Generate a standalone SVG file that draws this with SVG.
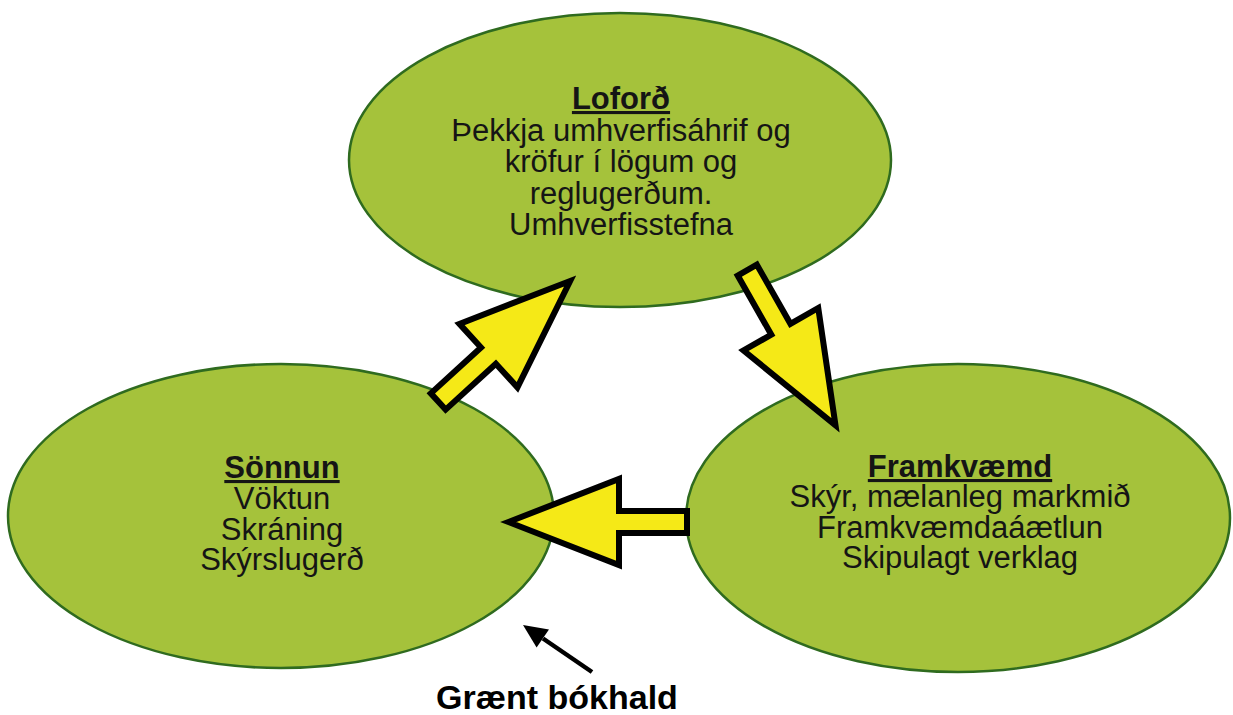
<svg xmlns="http://www.w3.org/2000/svg" width="1233" height="715" viewBox="0 0 1233 715">
  <style>
    .ell { fill: #a5c23b; stroke: #2f6b1f; stroke-width: 2.5; }
    .t { font-family: "Liberation Sans", Arial, sans-serif; font-size: 31px; fill: #151515; text-anchor: middle; }
    .h { font-weight: bold; text-decoration: underline; }
    .big { fill: #f5e917; stroke: #000; stroke-width: 6; stroke-linejoin: miter; stroke-miterlimit: 10; }
    .lbl { font-family: "Liberation Sans", Arial, sans-serif; font-size: 34px; font-weight: bold; fill: #000; text-anchor: middle; }
  </style>
  <defs>
    <path id="bigArrow" d="M3,-11 L71,-11 L71,-43 L181.6,0 L71,43 L71,11 L3,11 Z"/>
    <marker id="ptr" markerWidth="8" markerHeight="8" refX="1" refY="4" orient="auto" markerUnits="userSpaceOnUse" viewBox="0 0 8 8"/>
  </defs>
  <rect width="1233" height="715" fill="#ffffff"/>

  <g id="node-loford">
    <ellipse class="ell" cx="620" cy="160" rx="271" ry="147"/>
    <text class="t" x="621" y="109"><tspan class="h">Loforð</tspan></text>
    <text class="t" x="621" y="141">Þekkja umhverfisáhrif og</text>
    <text class="t" x="621" y="172">kröfur í lögum og</text>
    <text class="t" x="621" y="204">reglugerðum.</text>
    <text class="t" x="621" y="235">Umhverfisstefna</text>
  </g>

  <g id="node-sonnun">
    <ellipse class="ell" cx="281" cy="516" rx="273" ry="152"/>
    <text class="t" x="282" y="478"><tspan class="h">Sönnun</tspan></text>
    <text class="t" x="282" y="509">Vöktun</text>
    <text class="t" x="282" y="540">Skráning</text>
    <text class="t" x="282" y="570">Skýrslugerð</text>
  </g>

  <g id="node-framkvaemd">
    <ellipse class="ell" cx="958" cy="518" rx="272" ry="154"/>
    <text class="t" x="960" y="477"><tspan class="h">Framkvæmd</tspan></text>
    <text class="t" x="960" y="507">Skýr, mælanleg markmið</text>
    <text class="t" x="960" y="538">Framkvæmdaáætlun</text>
    <text class="t" x="960" y="568">Skipulagt verklag</text>
  </g>

  <g id="connectors">
    <use href="#bigArrow" class="big" transform="translate(436,403.5) rotate(-42.4)"/>
    <use href="#bigArrow" class="big" transform="translate(745.8,267.5) rotate(60.4)"/>
    <use href="#bigArrow" class="big" transform="translate(690,522) rotate(180)"/>
    <line x1="592" y1="672" x2="543" y2="638.5" stroke="#000" stroke-width="4.5"/>
    <polygon points="523,625 549,629.4 536.6,647.6" fill="#000"/>
  </g>

  <g id="label-graent">
    <text class="lbl" x="557" y="709">Grænt bókhald</text>
  </g>
</svg>
